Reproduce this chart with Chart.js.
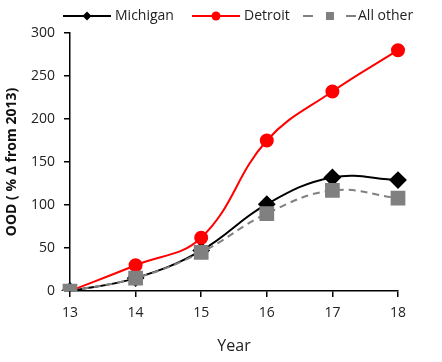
<!DOCTYPE html>
<html><head><meta charset="utf-8">
<script src="https://cdn.jsdelivr.net/npm/chart.js@4"></script>
<style>html,body{margin:0;padding:0;background:#fff}#w{width:442px;height:362px}</style>
</head><body><div id="w"><canvas id="c"></canvas></div>
<script>
const years = ["13","14","15","16","17","18"];
const michigan = [0, 15, 47, 101, 132, 129];
const detroit = [0, 30, 62, 175, 232, 280];
const allOther = [0, 15, 45, 90, 117, 108];
const yTicks = [0, 50, 100, 150, 200, 250, 300];

const FONT = "'Open Sans', 'Liberation Sans', sans-serif";

const legendPlugin = {
  id: 'customLegend',
  afterDraw(chart) {
    const ctx = chart.ctx;
    const ds = chart.data.datasets;
    const y = 16;
    const items = [
      {x0: 63, x1: 111, mx: 87, tx: 115},
      {x0: 192, x1: 240, mx: 216, tx: 244},
      {x0: 303, x1: 356, mx: 330, tx: 358}
    ];
    ctx.save();
    ctx.font = "14px " + FONT;
    ctx.textBaseline = 'middle';
    ds.forEach((d, i) => {
      const it = items[i];
      ctx.strokeStyle = d.borderColor;
      ctx.lineWidth = 2;
      if (d.borderDash && d.borderDash.length) {
        ctx.beginPath(); ctx.moveTo(it.x0, y); ctx.lineTo(it.x0 + 10, y); ctx.stroke();
        ctx.beginPath(); ctx.moveTo(it.x1 - 10, y); ctx.lineTo(it.x1, y); ctx.stroke();
      } else {
        ctx.beginPath(); ctx.moveTo(it.x0, y); ctx.lineTo(it.x1, y); ctx.stroke();
      }
      ctx.fillStyle = d.pointBackgroundColor;
      const s = d.pointStyle;
      if (s === 'circle') { ctx.beginPath(); ctx.arc(it.mx, y, 4.5, 0, Math.PI*2); ctx.fill(); }
      else if (s === 'rect') { ctx.fillRect(it.mx-4, y-4, 8, 8); }
      else { ctx.beginPath(); ctx.moveTo(it.mx, y-4.5); ctx.lineTo(it.mx+4.5, y); ctx.lineTo(it.mx, y+4.5); ctx.lineTo(it.mx-4.5, y); ctx.closePath(); ctx.fill(); }
      ctx.fillStyle = '#222';
      ctx.fillText(d.label, it.tx, y);
    });
    ctx.restore();
  }
};

new Chart(document.getElementById('c'), {
  type: 'line',
  data: {
    labels: years,
    datasets: [
      {label: 'Michigan', data: michigan, order: 2, borderColor: '#000', pointBackgroundColor: '#000', pointBorderColor: '#000', pointStyle: 'rectRot', pointRadius: 7.5, borderWidth: 2, tension: 0.4},
      {label: 'Detroit', data: detroit, order: 1, borderColor: '#ff0000', pointBackgroundColor: '#ff0000', pointBorderColor: '#ff0000', pointStyle: 'circle', pointRadius: 6, borderWidth: 2, tension: 0.4},
      {label: 'All other', data: allOther, order: 0, borderColor: '#808080', pointBackgroundColor: '#808080', pointBorderColor: '#808080', pointStyle: 'rect', pointRadius: 9, borderWidth: 2, borderDash: [7, 5], tension: 0.4}
    ]
  },
  options: {
    responsive: true, maintainAspectRatio: false, animation: false,
    layout: {padding: {top: 33, right: 44, bottom: 0, left: 0}},
    plugins: {legend: {display: false}, tooltip: {enabled: false}},
    elements: {point: {borderWidth: 0}},
    scales: {
      x: {
        offset: false,
        grid: {display: true, drawOnChartArea: false, drawTicks: true, tickLength: 6, color: '#000', lineWidth: 1.5},
        border: {display: true, color: '#000', width: 1.5},
        ticks: {color: '#222', font: {family: FONT, size: 14}, padding: 8, maxRotation: 0},
        title: {display: true, text: 'Year', color: '#222', font: {family: FONT, size: 16}, padding: {top: 4, bottom: 6}},
        afterFit(s) { s.height = 71; }
      },
      y: {
        min: 0, max: 300,
        afterBuildTicks(s) { s.ticks = yTicks.map(v => ({value: v})); },
        grid: {display: true, drawOnChartArea: false, drawTicks: true, tickLength: 6, color: '#000', lineWidth: 1.5},
        border: {display: true, color: '#000', width: 1.5},
        ticks: {color: '#222', font: {family: FONT, size: 14}, padding: 9},
        title: {display: true, text: 'OOD ( % Δ from 2013)', color: '#111', font: {family: FONT, size: 14, weight: 'bold'}, padding: {top: 4, bottom: 0}},
        afterFit(s) { s.width = 70; }
      }
    }
  },
  plugins: [legendPlugin]
});
</script></body></html>
